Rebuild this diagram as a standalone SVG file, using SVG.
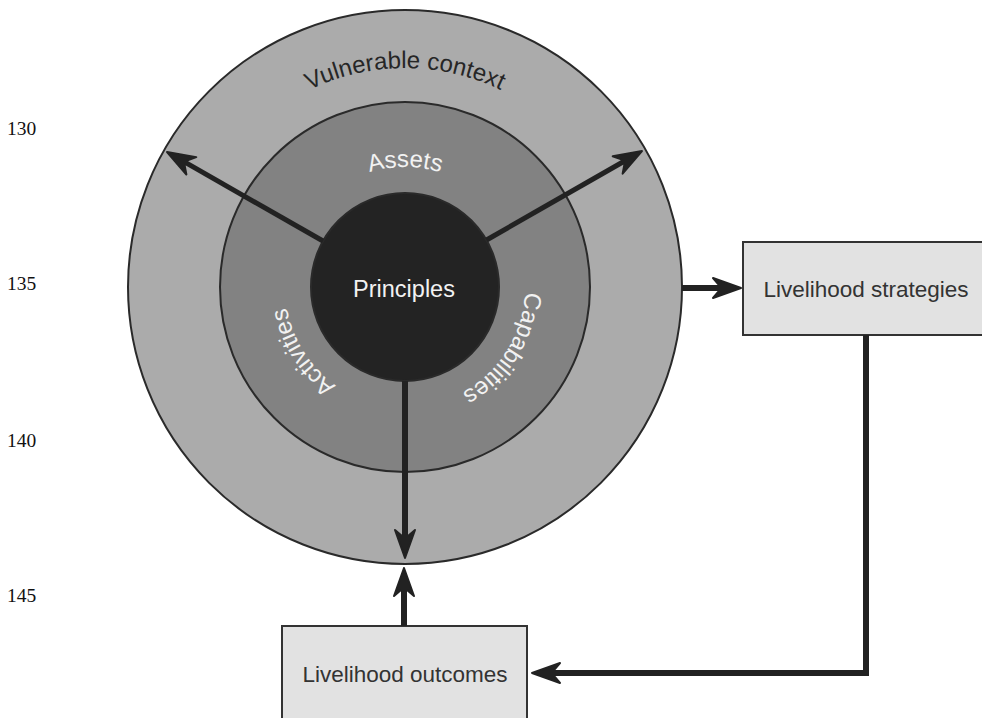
<svg xmlns="http://www.w3.org/2000/svg" width="982" height="718" viewBox="0 0 982 718">
<style>
.ring{stroke:#2a2a2a;stroke-width:2}
.lbl{font-family:"Liberation Sans",Arial,sans-serif}
.wt{fill:#f2f2f2;font-size:24px}
.box{fill:#e2e2e2;stroke:#333;stroke-width:2}
.bt{fill:#333;font-size:22.5px;text-anchor:middle}
.pg{font-family:"Liberation Serif","Times New Roman",serif;font-size:19.5px;fill:#111}
.con{fill:none;stroke:#222;stroke-width:6}
.thin{stroke-width:5}
</style>
<defs>
<marker id="ah" markerUnits="userSpaceOnUse" viewBox="-32 -13 34 26" markerWidth="34" markerHeight="26" refX="-20" refY="0" orient="auto" overflow="visible">
<path d="M0,0 L-28,-10 L-22,-3 L-22,3 L-28,10 Z" fill="#222" stroke="#222" stroke-width="2" stroke-linejoin="round"/>
</marker>
<path id="outerArc" d="M186,287 A219,219 0 0 1 624,287"/>
<path id="midCircle" d="M525,287 A120,120 0 1 1 285,287 A120,120 0 1 1 525,287"/>
</defs>

<g id="page-numbers">
<text class="pg" x="7" y="135">130</text>
<text class="pg" x="7" y="290">135</text>
<text class="pg" x="7" y="447">140</text>
<text class="pg" x="7" y="602">145</text>
</g>

<g id="vulnerable-context">
<circle class="ring" cx="405" cy="287" r="277" fill="#ababab"/>
<text class="lbl" font-size="24" fill="#262626"><textPath href="#outerArc" startOffset="50%" text-anchor="middle">Vulnerable context</textPath></text>
</g>

<g id="assets-ring">
<circle class="ring" cx="405" cy="287" r="185" fill="#828282"/>
<text class="lbl wt"><textPath href="#midCircle" startOffset="565.5" text-anchor="middle">Assets</textPath></text>
<text class="lbl wt"><textPath href="#midCircle" startOffset="67" text-anchor="middle">Capabilities</textPath></text>
<text class="lbl wt"><textPath href="#midCircle" startOffset="309" text-anchor="middle">Activities</textPath></text>
</g>

<g id="principles">
<circle class="ring" cx="405" cy="287" r="94" fill="#232323"/>
<text class="lbl" x="404" y="297" font-size="23.5" fill="#f2f2f2" text-anchor="middle">Principles</text>
</g>

<g id="livelihood-strategies">
<rect class="box" x="743" y="242" width="246" height="93"/>
<text class="lbl bt" x="866" y="297">Livelihood strategies</text>
</g>

<g id="livelihood-outcomes">
<rect class="box" x="282" y="626" width="245" height="93"/>
<text class="lbl bt" x="405" y="682">Livelihood outcomes</text>
</g>

<g id="connectors">
<line class="con thin" x1="323" y1="241" x2="184.4" y2="161.9" marker-end="url(#ah)"/>
<line class="con thin" x1="486.5" y1="240" x2="624.6" y2="161" marker-end="url(#ah)"/>
<line class="con" x1="405" y1="381" x2="405" y2="538" marker-end="url(#ah)"/>
<line class="con" x1="682" y1="288" x2="721" y2="288" marker-end="url(#ah)"/>
<line class="con" x1="404" y1="626" x2="404" y2="588" marker-end="url(#ah)"/>
<polyline class="con" points="866,335 866,673 552,673" marker-end="url(#ah)"/>
</g>
</svg>
